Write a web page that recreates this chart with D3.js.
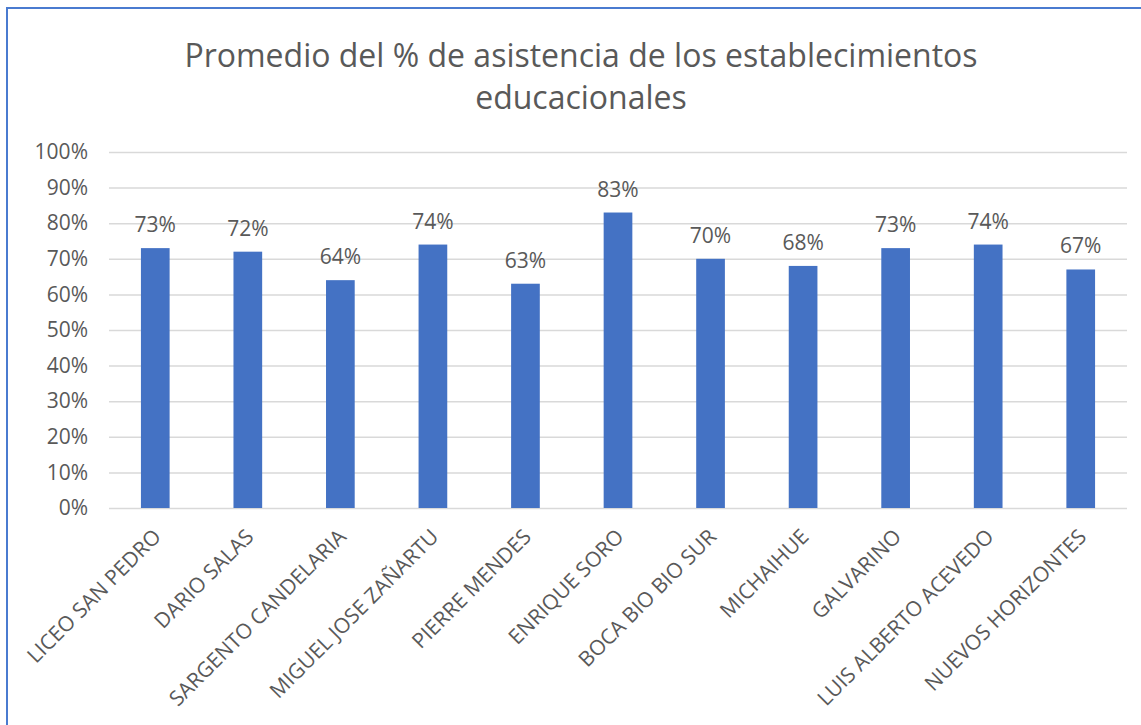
<!DOCTYPE html>
<html>
<head>
<meta charset="utf-8">
<script src="https://cdn.jsdelivr.net/npm/d3@7"></script>
<style>
  body { margin: 0; background: #fff; }
  text { font-family: "Open Sans", sans-serif; fill: #595959; }
</style>
</head>
<body>
<div class="chart-container"></div>
<script>
/********** the Data **********/
let schools = [
  "LICEO SAN PEDRO", "DARIO SALAS", "SARGENTO CANDELARIA", "MIGUEL JOSE ZAÑARTU",
  "PIERRE MENDES", "ENRIQUE SORO", "BOCA BIO BIO SUR", "MICHAIHUE",
  "GALVARINO", "LUIS ALBERTO ACEVEDO", "NUEVOS HORIZONTES"
];
let attendance = [0.73, 0.72, 0.64, 0.74, 0.63, 0.83, 0.70, 0.68, 0.73, 0.74, 0.67];
let yTicks = [0, 0.1, 0.2, 0.3, 0.4, 0.5, 0.6, 0.7, 0.8, 0.9, 1];
let titleLines = ["Promedio del % de asistencia de los establecimientos", "educacionales"];

/********** drawChart function **********/
function drawChart() {
  let width = 1141;
  let height = 725;
  let margin = {top: 152, right: 14, bottom: 217, left: 109};

  let chart = d3.select(".chart-container")
    .append("svg")
      .attr("class", "chart")
      .attr("width", width)
      .attr("height", height);

  // frame of the chart picture (left + top edges visible)
  chart.append("rect")
    .attr("x", 7)
    .attr("y", 8)
    .attr("width", width + 20)
    .attr("height", height + 20)
    .attr("fill", "none")
    .attr("stroke", "#4A7BD0")
    .attr("stroke-width", 2);

  /***** X-scale and Y-scale *****/
  let xScale = d3.scaleBand()
    .domain(schools)
    .range([margin.left, width - margin.right])
    .paddingInner(0.69)
    .paddingOuter(0.345); // bar centred in its category slot

  let yScale = d3.scaleLinear()
    .domain([0, 1])
    .range([height - margin.bottom, margin.top]);

  // title
  chart.append("text")
    .attr("class", "title")
    .attr("text-anchor", "middle")
    .style("font-size", "32px")
    .selectAll("tspan")
    .data(titleLines)
    .enter().append("tspan")
      .attr("x", 581)
      .attr("y", (d, i) => 67 + i * 42)
      .text(d => d);

  /* Y axis: gridlines + labels */
  let yAxis = d3.axisLeft(yScale)
    .tickValues(yTicks)
    .tickFormat(d3.format(".0%"))
    .tickSize(-(width - margin.left - margin.right))
    .tickPadding(21);

  let yG = chart.append("g")
    .attr("class", "y-axis")
    .attr("transform", `translate(${margin.left}, 0)`)
    .call(yAxis);
  yG.select(".domain").remove();
  yG.selectAll("line").attr("stroke", "#D9D9D9").attr("stroke-width", 1.5);
  yG.selectAll("text")
    .style("font-size", "21px")
    .style("font-family", "\"Open Sans\", sans-serif")
    .attr("fill", "#595959");

  /* X axis labels, rotated */
  let xAxis = d3.axisBottom(xScale).tickSize(0).tickPadding(0);
  let xG = chart.append("g")
    .attr("class", "x-axis")
    .attr("transform", `translate(0, ${height - margin.bottom})`)
    .call(xAxis);
  xG.select(".domain").remove();
  xG.selectAll("text")
    .attr("fill", "#595959")
    .style("font-size", "21px")
    .style("font-family", "\"Open Sans\", sans-serif")
    .attr("text-anchor", "end")
    .attr("dy", null)
    .attr("y", null)
    .attr("transform", "translate(7, 30) rotate(-45)");

  // bars
  chart.selectAll(".bar")
    .data(attendance)
    .enter().append("rect")
      .attr("class", "bar")
      .attr("x", (d, i) => xScale(schools[i]))
      .attr("width", xScale.bandwidth())
      .attr("y", d => yScale(d))
      .attr("height", d => yScale(0) - yScale(d))
      .attr("fill", "#4472C4");

  // value labels
  chart.selectAll(".val")
    .data(attendance)
    .enter().append("text")
      .attr("class", "val")
      .attr("x", (d, i) => xScale(schools[i]) + xScale.bandwidth() / 2)
      .attr("y", d => yScale(d) - 16)
      .attr("text-anchor", "middle")
      .style("font-size", "21px")
      .text(d => d3.format(".0%")(d));
}

drawChart();
</script>
</body>
</html>
